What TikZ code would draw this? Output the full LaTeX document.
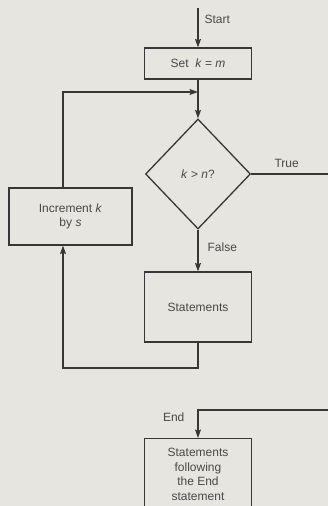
\documentclass[tikz,border=0pt]{standalone}
\usepackage{fontspec}
\setmainfont{Liberation Sans}
\usetikzlibrary{shapes.geometric, positioning, arrows.meta}
\newcommand{\var}[1]{\textit{#1}}
\definecolor{paper}{RGB}{231,229,223}
\definecolor{ink}{RGB}{55,55,55}
\definecolor{type}{RGB}{72,72,72}

\begin{document}
\begin{tikzpicture}[
    x=1pt, y=-1pt,       % coordinates in points, y downwards
    >={Stealth[length=8.5pt, width=6pt, inset=1.5pt]},  % arrow tip
    line width=1.2pt,
    draw=ink,
    every node/.style={text=type, font=\fontsize{12}{14.5}\selectfont},
    box/.style={rectangle, draw=ink, line width=1.2pt, align=center, inner sep=2pt},
    test/.style={diamond, draw=ink, line width=1.3pt, inner sep=0pt,
                 minimum width=105pt, minimum height=110pt},
    lbl/.style={inner sep=1pt}
  ]

  % --- page ---
  \fill[paper] (0,0) rectangle (328,506);
  \useasboundingbox (0,0) rectangle (328,506);

  % --- boxes ---
  \coordinate (start) at (198,8);
  \node[box, minimum width=107pt, minimum height=31pt] (set) at (198,63.5) {Set\ \ \var{k} = \var{m}};
  \coordinate (join) at (198,92);
  \node[test] (cond) at (198,174) {\var{k} > \var{n}?};
  \node[box, minimum width=123pt, minimum height=57pt] (incr) at (70.5,216.5) {Increment \var{k}\\by \var{s}};
  \node[box, minimum width=107pt, minimum height=70pt] (stmts) at (198,307) {Statements};
  \node[box, minimum width=107pt, minimum height=72pt, anchor=north] (after) at (198,438)
       {Statements\\following\\the End\\statement};

  % --- loose ends ---
  \coordinate (back) at (63,368);
  \coordinate (out) at (330,174);
  \coordinate (in) at (330,410);

  % --- flow ---
  \draw[->] (start) -- node[lbl, pos=0.3, right=5pt] {Start} (set);
  \draw[->] (set) -- (cond);
  \draw[->] (back |- incr.north) |- (join);
  \draw (cond) -- node[lbl, above=5pt, pos=0.45] {True} (out);
  \draw[->] (cond) -- node[lbl, right=8pt, pos=0.42] {False} (stmts);
  \draw[->] (stmts) |- (back) -- (back |- incr.south);
  \draw[->] (in) -| node[lbl, pos=0.62, left=12pt] {End} (after);

\end{tikzpicture}
\end{document}
